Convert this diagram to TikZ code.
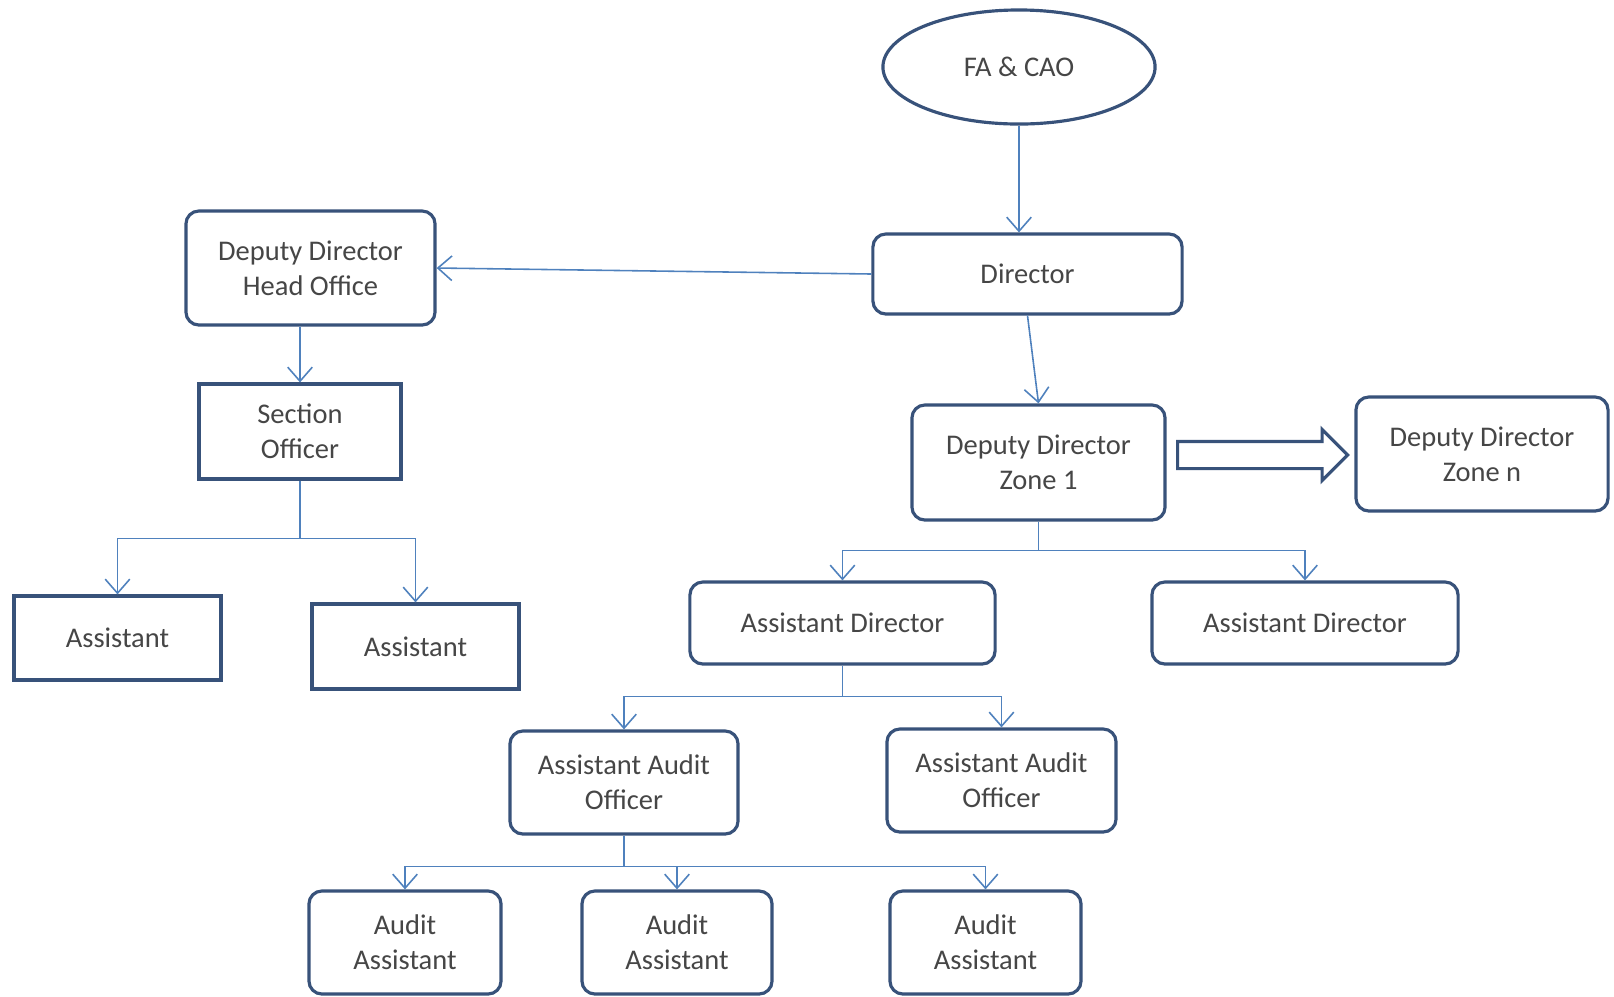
\documentclass[tikz,border=0pt]{standalone}
\usepackage{fontspec}
\setmainfont{Carlito}
\usetikzlibrary{arrows.meta,shapes.geometric,shapes.arrows}
\definecolor{boxblue}{RGB}{56,82,122}
\definecolor{lineblue}{RGB}{79,129,189}
\definecolor{txtgray}{RGB}{70,70,70}

\begin{document}
\begin{tikzpicture}[
            x=0.01cm, y=-0.01cm,
            every node/.style={font=\fontsize{8.1}{9.9}\selectfont, text=txtgray, align=center},
            post/.style={rectangle, draw=boxblue, line width=0.9pt, rounded corners=1.3mm, fill=white, inner sep=0pt},
            plainpost/.style={rectangle, draw=boxblue, line width=0.9pt, fill=white, inner sep=0pt},
            head/.style={ellipse, draw=boxblue, line width=0.9pt, inner sep=0pt},
            arrow/.style={-{Straight Barb[length=4pt,width=7pt]}, draw=lineblue, line width=0.45pt}
        ]

        \useasboundingbox (0,0) rectangle (1614,996);

        \node[head] (cao) at (1019,67) [minimum width=2.72cm, minimum height=1.14cm] {FA \& CAO};
        \node[post] (director) at (1027.5,274) [minimum width=3.09cm, minimum height=0.80cm] {Director};
        \node[post] (ddho) at (310.5,268) [minimum width=2.49cm, minimum height=1.14cm] {Deputy Director\\Head Office};
        \node[plainpost] (so) at (300,431.5) [minimum width=2.02cm, minimum height=0.95cm] {Section\\Officer};
        \node[plainpost] (asst1) at (117.5,638) [minimum width=2.07cm, minimum height=0.84cm] {Assistant};
        \node[plainpost] (asst2) at (415.5,646.5) [minimum width=2.07cm, minimum height=0.85cm] {Assistant};

        \node[post] (ddz1) at (1038.5,462.5) [minimum width=2.53cm, minimum height=1.15cm] {Deputy Director\\Zone 1};
        \node[post] (ddzn) at (1482,454) [minimum width=2.52cm, minimum height=1.14cm] {Deputy Director\\Zone n};
        \node[post] (adl) at (842.5,623) [minimum width=3.05cm, minimum height=0.82cm] {Assistant Director};
        \node[post] (adr) at (1305,623) [minimum width=3.06cm, minimum height=0.82cm] {Assistant Director};
        \node[post] (aaol) at (624,782.5) [minimum width=2.28cm, minimum height=1.03cm] {Assistant Audit\\Officer};
        \node[post] (aaor) at (1001.5,780.5) [minimum width=2.29cm, minimum height=1.03cm] {Assistant Audit\\Officer};
        \node[post] (aa1) at (405,942.5) [minimum width=1.92cm, minimum height=1.03cm] {Audit\\Assistant};
        \node[post] (aa2) at (677,942.5) [minimum width=1.90cm, minimum height=1.03cm] {Audit\\Assistant};
        \node[post] (aa3) at (985.5,942.5) [minimum width=1.91cm, minimum height=1.03cm] {Audit\\Assistant};

        % hollow arrow towards the other zones
        \node[single arrow, draw=boxblue, line width=0.9pt, fill=white, anchor=tail,
              minimum height=1.70cm, inner xsep=0pt, inner ysep=0.12cm,
              single arrow head extend=0.12cm] (more) at (1176,455) {};

        \draw[arrow] (cao.south) -- (cao.south |- director.north);
        \draw[arrow] (director.west) -- (ddho.east);
        \draw[arrow] (so.north |- ddho.south) -- (so.north);
        \draw[arrow] (director.south) -- (ddz1.north);

        \draw[arrow] (so.south) -- ++(0,58) -| (asst1.north);
        \draw[arrow] (so.south) -- ++(0,58) -| (asst2.north);

        \draw[arrow] (ddz1.south) -- ++(0,29) -| (adl.north);
        \draw[arrow] (ddz1.south) -- ++(0,29) -| (adr.north);

        \draw[arrow] (adl.south) -- ++(0,31) -| (aaol.north);
        \draw[arrow] (adl.south) -- ++(0,31) -| (aaor.north);

        \draw[arrow] (aaol.south) -- ++(0,31) -| (aa1.north);
        \draw[arrow] (aaol.south) -- ++(0,31) -| (aa2.north);
        \draw[arrow] (aaol.south) -- ++(0,31) -| (aa3.north);

    \end{tikzpicture}
\end{document}
